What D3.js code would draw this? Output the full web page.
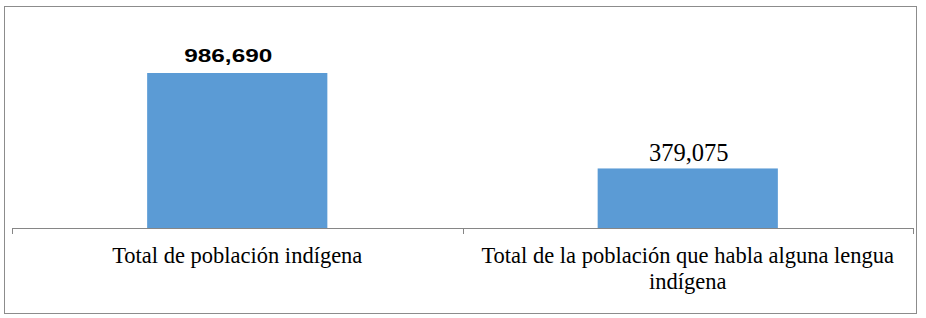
<!DOCTYPE html>
<html><head><meta charset="utf-8">
<script src="https://cdn.jsdelivr.net/npm/d3@7"></script>
<style>body{margin:0;background:#fff}svg{display:block}</style>
</head><body>
<svg id="c" width="926" height="318"></svg>
<script>
const categories = ["Total de población indígena", "Total de la población que habla alguna lengua indígena"];
const categoryLines = [["Total de población indígena"], ["Total de la población que habla alguna lengua", "indígena"]];
const values = [986690, 379075];
const valueLabels = ["986,690", "379,075"];

const svg = d3.select("#c");
svg.append("rect").attr("x",4.5).attr("y",6.5).attr("width",912).attr("height",307)
  .attr("fill","#fff").attr("stroke","#8c8c8c").attr("stroke-width",1);

const x = d3.scaleBand().domain(categories).range([12,913]).paddingInner(0.6).paddingOuter(0.3);
const y = d3.scaleLinear().domain([0,1200000]).range([228,39.5]);

svg.selectAll("rect.bar").data(values).enter().append("rect").attr("class","bar")
  .attr("x",(d,i)=>x(categories[i])).attr("width",x.bandwidth())
  .attr("y",d=>y(d)).attr("height",d=>y(0)-y(d)).attr("fill","#5B9BD5");

// axis
const g = svg.append("g");
g.append("line").attr("x1",12).attr("x2",913).attr("y1",y(0)+0.5).attr("y2",y(0)+0.5).attr("stroke","#868686");
const tickX = [x.range()[0], (x(categories[0])+x.bandwidth()+x(categories[1]))/2, x.range()[1]];
g.selectAll("line.t").data(tickX).enter().append("line").attr("class","t")
  .attr("x1",d=>Math.round(d)+0.5).attr("x2",d=>Math.round(d)+0.5).attr("y1",y(0)).attr("y2",y(0)+6).attr("stroke","#868686");

// value labels
svg.selectAll("text.v").data(values).enter().append("text").attr("class","v")
  .attr("x",(d,i)=>x(categories[i])+x.bandwidth()/2 + (i===0?-9:1))
  .attr("y",(d,i)=>y(d)-(i===0?11:7))
  .attr("text-anchor","middle")
  .attr("font-family",(d,i)=>i===0?"Liberation Sans, Arial, sans-serif":"Liberation Serif, Times New Roman, serif")
  .attr("font-weight",(d,i)=>i===0?"bold":"normal")
  .attr("font-size",(d,i)=>i===0?"19px":"24.5px")
  .attr("textLength",(d,i)=>i===0?88:null)
  .attr("lengthAdjust","spacingAndGlyphs")
  .attr("fill","#000")
  .text((d,i)=>valueLabels[i]);

// category labels
categories.forEach((c,i)=>{
  const cx = x(c)+x.bandwidth()/2;
  const t = svg.append("text").attr("text-anchor","middle")
    .attr("font-family","Liberation Serif, Times New Roman, serif").attr("font-size","22.5px").attr("fill","#000");
  categoryLines[i].forEach((ln,j)=>{
    t.append("tspan").attr("x",cx).attr("y",263+j*26).text(ln);
  });
});
</script>
</body></html>
